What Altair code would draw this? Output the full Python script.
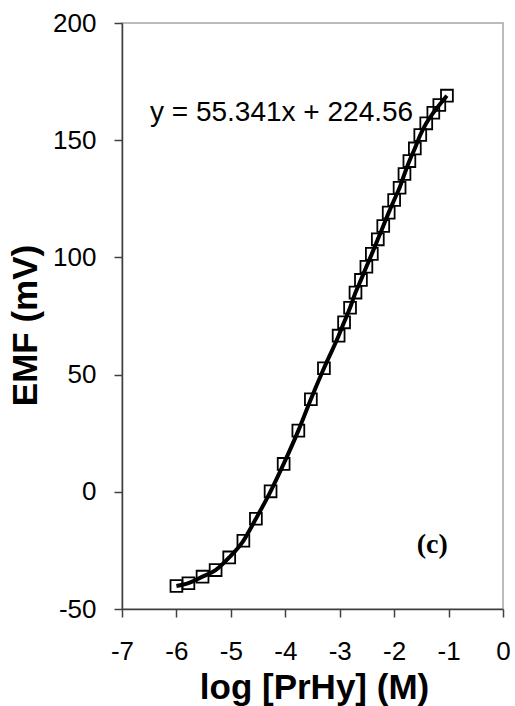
import altair as alt
import pandas as pd

log_conc = [-6.0, -5.78, -5.52, -5.28, -5.03, -4.77, -4.54, -4.27, -4.03, -3.76,
            -3.53, -3.29, -3.02, -2.92, -2.81, -2.71, -2.61, -2.51, -2.41, -2.30,
            -2.20, -2.10, -2.00, -1.90, -1.81, -1.72, -1.62, -1.52, -1.41, -1.28,
            -1.17, -1.03]
emf = [-40.2, -39.0, -36.2, -33.4, -28.0, -20.9, -11.5, 0.2, 11.9, 26.1,
       39.5, 52.7, 66.6, 72.3, 78.5, 85.0, 90.4, 96.0, 101.5, 107.7,
       113.4, 119.1, 124.5, 129.7, 135.6, 141.1, 146.5, 152.2, 157.2, 161.7,
       165.0, 169.0]

x_ticks = [-7, -6, -5, -4, -3, -2, -1, 0]
y_ticks = [-50, 0, 50, 100, 150, 200]

equation_text = ["y = 55.341x + 224.56"]
equation_x = [-6.485]
equation_y = [158.2]

panel_text = ["(c)"]
panel_x = [-1.30]
panel_y = [-22.7]

df = pd.DataFrame({"x": log_conc, "y": emf})
eq_df = pd.DataFrame({"x": equation_x, "y": equation_y, "t": equation_text})
pn_df = pd.DataFrame({"x": panel_x, "y": panel_y, "t": panel_text})

xs = alt.Scale(domain=[-7, 0], nice=False, zero=False)
ys = alt.Scale(domain=[-50, 200], nice=False, zero=False)

x_axis = alt.Axis(values=x_ticks, title="log [PrHy] (M)", grid=False,
                  labelExpr="'' + datum.value", labelOverlap=False, labelFlush=False,
                  tickSize=8, labelPadding=21, titleX=192, titleY=89,
                  titleBaseline="alphabetic", titleAlign="center")
y_axis = alt.Axis(values=y_ticks, title="EMF (mV)", grid=False,
                  labelExpr="'' + datum.value", labelOverlap=False, labelFlush=False,
                  tickSize=8, labelPadding=18, titleX=-86, titleY=302,
                  titleBaseline="alphabetic", titleAlign="center", titleAngle=270)

base = alt.Chart(df)

points = base.mark_point(shape="square", size=140, filled=False,
                         color="black", strokeWidth=1.8, opacity=1).encode(
    x=alt.X("x:Q", scale=xs, axis=x_axis),
    y=alt.Y("y:Q", scale=ys, axis=y_axis),
)

line = base.mark_line(color="black", strokeWidth=4, interpolate="monotone").encode(
    x=alt.X("x:Q", scale=xs),
    y=alt.Y("y:Q", scale=ys),
)

eq = alt.Chart(eq_df).mark_text(align="left", baseline="alphabetic",
                                font="Liberation Sans", fontSize=28,
                                color="black").encode(
    x=alt.X("x:Q", scale=xs), y=alt.Y("y:Q", scale=ys), text="t:N")

pn = alt.Chart(pn_df).mark_text(align="center", baseline="middle",
                                font="Liberation Serif", fontWeight="bold",
                                fontSize=28, color="black").encode(
    x=alt.X("x:Q", scale=xs), y=alt.Y("y:Q", scale=ys), text="t:N")

chart = alt.layer(points, line, eq, pn).properties(
    width=381, height=586,
    autosize=alt.AutoSizeParams(type="none"),
    padding={"left": 122, "top": 23, "right": 12, "bottom": 97},
    background="white",
).configure_view(
    stroke="#a6a6a6", strokeWidth=1.5
).configure_axis(
    domainColor="#404040", domainWidth=1.5,
    tickColor="#404040", tickWidth=1.5,
    labelFont="Liberation Sans", labelFontSize=26, labelColor="black",
    titleFont="Liberation Sans", titleFontSize=35, titleFontWeight="bold",
    titleColor="black",
)

chart.save("out.html", embed_options={"renderer": "svg", "actions": False})
